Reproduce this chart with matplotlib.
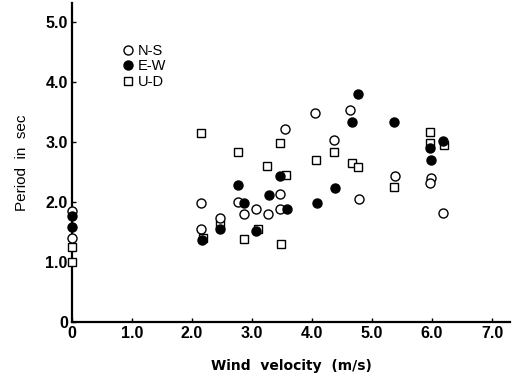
import matplotlib
matplotlib.use("Agg")
import matplotlib.pyplot as plt

plt.rcParams["font.family"] = ["Liberation Sans", "DejaVu Sans"]

# wind velocity (axis units) and period in sec for each component
ns_x = [0.0, 0.0, 2.15, 2.15, 2.46, 2.76, 2.86, 3.07, 3.26, 3.46, 3.47, 3.55, 4.05, 4.36, 4.64, 4.78, 5.39, 5.98, 5.97, 6.18]
ns_y = [1.84, 1.39, 1.97, 1.54, 1.73, 2.00, 1.79, 1.87, 1.79, 2.13, 1.88, 3.21, 3.47, 3.02, 3.52, 2.05, 2.43, 2.40, 2.31, 1.81]

ew_x = [0.0, 0.0, 2.16, 2.47, 2.77, 2.87, 3.07, 3.28, 3.47, 3.58, 4.09, 4.38, 4.66, 4.76, 5.37, 5.97, 5.98, 6.18]
ew_y = [1.76, 1.58, 1.36, 1.54, 2.27, 1.97, 1.51, 2.11, 2.43, 1.87, 1.98, 2.22, 3.33, 3.79, 3.33, 2.90, 2.69, 3.01]

ud_x = [0.0, 0.0, 2.15, 2.18, 2.46, 2.76, 2.87, 3.10, 3.25, 3.47, 3.56, 3.48, 4.06, 4.37, 4.66, 4.77, 5.36, 5.97, 5.97, 6.20]
ud_y = [1.25, 1.00, 3.15, 1.39, 1.62, 2.82, 1.37, 1.54, 2.59, 2.97, 2.44, 1.29, 2.69, 2.83, 2.65, 2.58, 2.24, 3.16, 2.97, 2.94]

x_ticks = [0, 1, 2, 3, 4, 5, 6, 7]
x_tick_labels = ["0", "1.0", "2.0", "3.0", "4.0", "5.0", "6.0", "7.0"]
y_ticks = [0, 1, 2, 3, 4, 5]
y_tick_labels = ["0", "1.0", "2.0", "3.0", "4.0", "5.0"]

fig = plt.figure(figsize=(5.15, 3.76), dpi=100)
ax = fig.add_axes([72 / 515, 54.5 / 376, 438 / 515, 318.5 / 376])

ms = 6.5
ax.plot(ud_x, ud_y, ls="none", marker="s", ms=ms - 0.5, mfc="white", mec="black", mew=1.0, label="U-D", clip_on=False, zorder=3)
ax.plot(ns_x, ns_y, ls="none", marker="o", ms=ms, mfc="white", mec="black", mew=1.0, label="N-S", clip_on=False, zorder=4)
ax.plot(ew_x, ew_y, ls="none", marker="o", ms=ms, mfc="black", mec="black", mew=1.0, label="E-W", clip_on=False, zorder=5)

ax.set_xlim(0, 7.3)
ax.set_ylim(0, 5.31)
ax.spines["top"].set_visible(False)
ax.spines["right"].set_visible(False)
ax.spines["left"].set_linewidth(1.6)
ax.spines["bottom"].set_linewidth(1.6)

ax.set_xticks(x_ticks)
ax.set_xticklabels(x_tick_labels, fontsize=11.5, fontweight="bold")
ax.set_yticks(y_ticks)
ax.set_yticklabels(y_tick_labels, fontsize=11.5, fontweight="bold")
ax.tick_params(direction="in", length=3, width=1, pad=3)

ax.set_xlabel("Wind  velocity  (m/s)", fontsize=10, fontweight="bold", family="DejaVu Sans", labelpad=13)
ax.set_ylabel("Period  in  sec", fontsize=11, labelpad=12)

handles, labels = ax.get_legend_handles_labels()
order = [1, 2, 0]
ax.legend([handles[i] for i in order], [labels[i] for i in order],
          loc="upper left", bbox_to_anchor=(122 / 515, 1 - 44 / 376), bbox_transform=fig.transFigure,
          frameon=False, fontsize=10.5, handlelength=0.8, handletextpad=0.3,
          labelspacing=0.1, borderpad=0, borderaxespad=0)

fig.savefig("out.png", dpi=100)
